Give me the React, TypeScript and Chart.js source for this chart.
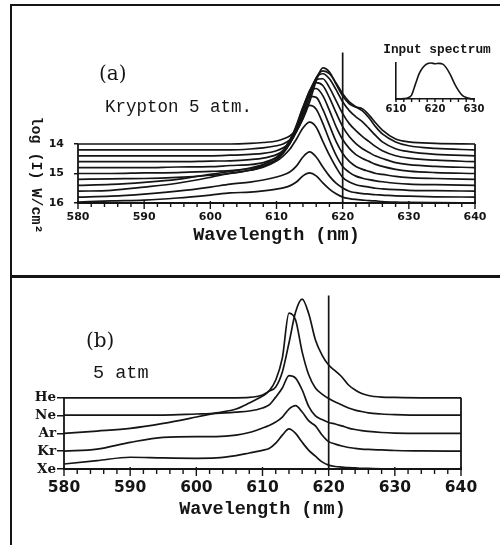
import React, { useEffect, useRef } from "react";
import { Chart, registerables } from "chart.js";

Chart.register(...registerables);

const INK = "#151515";

// Wavelength grid (nm) on which every spectrum below is sampled
const wavelengths = [580, 585, 590, 595, 600, 603, 606, 608, 610, 611, 612, 613, 614, 615, 616, 617, 618, 619, 620, 621, 622, 623, 624, 625, 626, 628, 630, 634, 640];

// (a) Krypton 5 atm: baseline log(I) of each trace, bottom trace first
const kryptonLevels = [16.0, 15.8, 15.6, 15.4, 15.2, 15.0, 14.8, 14.6, 14.4, 14.2, 14.0];
const levelTicks = [14, 15, 16];

// Rise of each trace above its own baseline (decades)
const kr1 = [0.03, 0.07, 0.10, 0.17, 0.27, 0.34, 0.37, 0.41, 0.47, 0.51, 0.58, 0.71, 0.92, 1.02, 0.92, 0.68, 0.47, 0.31, 0.20, 0.15, 0.12, 0.10, 0.08, 0.07, 0.05, 0.03, 0.02, 0.01, 0];
const kr2 = [0, 0.03, 0.10, 0.20, 0.34, 0.44, 0.51, 0.58, 0.68, 0.75, 0.85, 1.05, 1.36, 1.53, 1.36, 1.02, 0.71, 0.47, 0.31, 0.20, 0.15, 0.12, 0.10, 0.08, 0.07, 0.04, 0.03, 0.01, 0];
const kr3 = [0, 0.03, 0.14, 0.27, 0.47, 0.61, 0.71, 0.81, 1.02, 1.19, 1.42, 1.76, 2.14, 2.34, 2.17, 1.69, 1.22, 0.81, 0.47, 0.31, 0.22, 0.17, 0.14, 0.10, 0.08, 0.05, 0.03, 0.02, 0];
const kr4 = [0, 0.03, 0.10, 0.20, 0.37, 0.47, 0.58, 0.71, 0.95, 1.19, 1.53, 1.97, 2.44, 2.71, 2.58, 2.10, 1.53, 1.02, 0.64, 0.44, 0.31, 0.24, 0.19, 0.15, 0.12, 0.07, 0.04, 0.02, 0];
const kr5 = [0, 0.02, 0.03, 0.07, 0.14, 0.20, 0.31, 0.44, 0.68, 0.92, 1.29, 1.83, 2.44, 2.81, 2.78, 2.37, 1.83, 1.29, 0.88, 0.61, 0.44, 0.34, 0.27, 0.20, 0.17, 0.10, 0.06, 0.03, 0];
const kr6 = [0, 0, 0.02, 0.03, 0.07, 0.10, 0.17, 0.27, 0.47, 0.68, 1.02, 1.56, 2.24, 2.75, 2.88, 2.64, 2.14, 1.59, 1.15, 0.85, 0.64, 0.51, 0.41, 0.31, 0.24, 0.14, 0.08, 0.03, 0];
const kr7 = [0, 0, 0, 0.02, 0.03, 0.07, 0.10, 0.17, 0.34, 0.51, 0.81, 1.32, 2.00, 2.61, 2.88, 2.78, 2.37, 1.86, 1.39, 1.05, 0.81, 0.64, 0.51, 0.39, 0.31, 0.17, 0.10, 0.04, 0];
const kr8 = [0, 0, 0, 0, 0.02, 0.03, 0.07, 0.12, 0.24, 0.37, 0.61, 1.05, 1.69, 2.37, 2.78, 2.81, 2.51, 2.07, 1.63, 1.29, 1.05, 0.85, 0.68, 0.51, 0.37, 0.20, 0.12, 0.05, 0];
const kr9 = [0, 0, 0, 0, 0, 0.02, 0.05, 0.08, 0.17, 0.27, 0.44, 0.81, 1.39, 2.10, 2.64, 2.78, 2.61, 2.24, 1.83, 1.53, 1.32, 1.15, 0.92, 0.68, 0.47, 0.24, 0.14, 0.05, 0];
const kr10 = [0, 0, 0, 0, 0, 0, 0.03, 0.07, 0.14, 0.20, 0.34, 0.61, 1.08, 1.76, 2.44, 2.68, 2.58, 2.27, 1.90, 1.63, 1.46, 1.32, 1.08, 0.78, 0.54, 0.27, 0.14, 0.05, 0];
const kr11 = [0, 0, 0, 0, 0, 0, 0.02, 0.05, 0.10, 0.17, 0.27, 0.47, 0.85, 1.42, 2.14, 2.58, 2.44, 2.03, 1.63, 1.36, 1.25, 1.19, 0.98, 0.71, 0.47, 0.17, 0.07, 0.02, 0];
const kryptonRises = [kr1, kr2, kr3, kr4, kr5, kr6, kr7, kr8, kr9, kr10, kr11];

// (b) 5 atm of each buffer gas, offset levels: Xe = 0 ... He = 4
const gasLabels = ["Xe", "Kr", "Ar", "Ne", "He"];
const heTrace = [4.0, 4.0, 4.0, 4.0, 4.0, 4.0, 4.0, 4.02, 4.16, 4.38, 4.61, 5.45, 7.08, 8.82, 9.55, 8.71, 7.25, 6.40, 5.84, 5.51, 5.17, 4.72, 4.44, 4.24, 4.13, 4.04, 4.02, 4.0, 4.0];
const neTrace = [3.03, 3.03, 3.03, 3.03, 3.09, 3.13, 3.20, 3.26, 3.43, 3.60, 4.04, 4.55, 5.25, 5.11, 4.44, 3.50, 2.98, 2.78, 2.61, 2.53, 2.42, 2.30, 2.22, 2.16, 2.11, 2.05, 2.02, 2.0, 2.0];
const arTrace = [2.0, 2.13, 2.28, 2.56, 2.92, 3.15, 3.37, 3.71, 4.10, 4.38, 5.0, 6.24, 8.76, 8.37, 6.57, 5.28, 4.55, 4.21, 3.96, 3.76, 3.60, 3.43, 3.31, 3.23, 3.15, 3.09, 3.06, 3.03, 3.03];
const krTrace = [1.0, 1.12, 1.50, 1.78, 1.82, 1.82, 1.90, 2.05, 2.30, 2.44, 2.64, 2.92, 3.37, 3.56, 3.20, 2.70, 2.42, 1.91, 1.54, 1.40, 1.29, 1.21, 1.16, 1.12, 1.10, 1.07, 1.04, 1.02, 1.0];
const xeTrace = [0.28, 0.47, 0.66, 0.62, 0.60, 0.62, 0.75, 0.90, 1.05, 1.15, 1.45, 1.90, 2.25, 2.00, 1.50, 1.05, 0.72, 0.40, 0.22, 0.14, 0.11, 0.08, 0.06, 0.04, 0.03, 0.01, 0, 0, 0];
const gasTraces = [xeTrace, krTrace, arTrace, neTrace, heTrace];

// Inset: normalised input spectrum
const inputWavelengths = [610, 611, 612, 613, 614, 615, 616, 617, 618, 619, 620, 621, 622, 623, 624, 625, 626, 627, 628, 629, 630];
const inputSpectrum = [0, 0, 0.01, 0.03, 0.11, 0.42, 0.72, 0.89, 0.98, 1.0, 0.98, 0.99, 0.97, 0.85, 0.66, 0.43, 0.24, 0.1, 0.04, 0.01, 0];

const markerWavelength = 620;

type Txt = {
  text: string;
  x: number;
  y: number;
  font: string;
  align?: CanvasTextAlign;
  baseline?: CanvasTextBaseline;
  rotate?: number;
};

type DecoOpts = {
  minorStep: number;
  majorStep: number;
  minorLen: number;
  majorUp: number;
  majorDown: number;
  marker?: number;
  box?: [number, number];
  texts: Txt[];
};

// Draws tick marks, the marker line, the side walls of the stack and free text
function decorations(o: DecoOpts) {
  return {
    id: "decorations",
    afterDraw(chart: any) {
      const { ctx, chartArea } = chart;
      const xs = chart.scales.x;
      const ys = chart.scales.y;
      const y0 = chartArea.bottom;
      ctx.save();
      ctx.strokeStyle = INK;
      ctx.fillStyle = INK;
      ctx.lineWidth = 1.4;
      for (let v = xs.min; v <= xs.max + 1e-6; v += o.minorStep) {
        const px = xs.getPixelForValue(v);
        const r = (v - xs.min) % o.majorStep;
        const major = Math.abs(r) < 1e-6 || Math.abs(r - o.majorStep) < 1e-6;
        ctx.beginPath();
        ctx.moveTo(px, y0 - (major ? o.majorUp : 0));
        ctx.lineTo(px, y0 + (major ? o.majorDown : o.minorLen));
        ctx.stroke();
      }
      if (o.marker !== undefined) {
        const px = xs.getPixelForValue(o.marker);
        ctx.lineWidth = 1.7;
        ctx.beginPath();
        ctx.moveTo(px, chartArea.top);
        ctx.lineTo(px, y0);
        ctx.stroke();
      }
      if (o.box) {
        ctx.lineWidth = 1.8;
        const ya = ys.getPixelForValue(o.box[0]);
        const yb = ys.getPixelForValue(o.box[1]);
        [xs.min, xs.max].forEach((v: number) => {
          const px = xs.getPixelForValue(v);
          ctx.beginPath();
          ctx.moveTo(px, ya);
          ctx.lineTo(px, yb);
          ctx.stroke();
        });
      }
      o.texts.forEach((t) => {
        ctx.save();
        ctx.font = t.font;
        ctx.textAlign = t.align || "left";
        ctx.textBaseline = t.baseline || "alphabetic";
        ctx.translate(t.x, t.y);
        if (t.rotate) ctx.rotate(t.rotate);
        ctx.fillText(t.text, 0, 0);
        ctx.restore();
      });
      ctx.restore();
    },
  };
}

const tickFont = (size: number) => ({ family: "DejaVu Sans", size, weight: "bold" as const });

function lineSet(points: { x: number; y: number }[], width = 1.7) {
  return {
    data: points,
    borderColor: INK,
    borderWidth: width,
    pointRadius: 0,
    fill: false,
    cubicInterpolationMode: "monotone" as const,
    clip: 4,
  };
}

function useChart(ref: React.RefObject<HTMLCanvasElement | null>, build: () => any) {
  useEffect(() => {
    if (!ref.current) return;
    const chart = new Chart(ref.current, build());
    return () => chart.destroy();
  }, []);
}

function PanelA() {
  const ref = useRef<HTMLCanvasElement>(null);
  useChart(ref, () => ({
    type: "line",
    data: {
      datasets: kryptonRises.map((rise, i) =>
        lineSet(wavelengths.map((w, j) => ({ x: w, y: kryptonLevels[i] - rise[j] })))
      ),
    },
    options: {
      animation: false,
      responsive: false,
      devicePixelRatio: 1,
      events: [],
      layout: { padding: { left: 0, right: 25, top: 52.5, bottom: 0 } },
      plugins: { legend: { display: false }, tooltip: { enabled: false } },
      scales: {
        x: {
          type: "linear",
          min: 580,
          max: 640,
          afterFit: (s: any) => { s.height = 72; },
          grid: { display: false, drawTicks: false },
          border: { display: true, color: INK, width: 2 },
          ticks: { stepSize: 10, padding: 8, color: INK, font: tickFont(11), maxRotation: 0, autoSkip: false },
          title: {
            display: true,
            text: "Wavelength (nm)",
            color: INK,
            font: { family: "Liberation Mono", size: 18.5, weight: "bold" },
            padding: { top: 0, bottom: 29 },
          },
        },
        y: {
          type: "linear",
          reverse: true,
          min: 10.9,
          max: 16,
          afterFit: (s: any) => { s.width = 78; },
          afterBuildTicks: (s: any) => { s.ticks = levelTicks.map((v) => ({ value: v })); },
          grid: { drawOnChartArea: false, drawTicks: true, tickLength: 4, color: INK, lineWidth: 1.5 },
          border: { display: false },
          ticks: { padding: 10, color: INK, font: tickFont(11), callback: (v: any) => String(v) },
        },
      },
    },
    plugins: [
      decorations({
        minorStep: 2,
        majorStep: 10,
        minorLen: 4,
        majorUp: 2,
        majorDown: 6,
        marker: markerWavelength,
        box: [levelTicks[0], levelTicks[levelTicks.length - 1]],
        texts: [
          { text: "(a)", x: 99, y: 75, font: "20px 'DejaVu Serif'", baseline: "middle" },
          { text: "Krypton 5 atm.", x: 105, y: 112, font: "17.5px 'Liberation Mono'" },
          {
            text: "log (I) W/cm²",
            x: 35.5,
            y: 175,
            font: "bold 15px 'Liberation Mono'",
            align: "center",
            baseline: "middle",
            rotate: Math.PI / 2,
          },
        ],
      }),
    ],
  }));
  return (
    <canvas
      ref={ref}
      width={500}
      height={275}
      style={{ position: "absolute", left: 0, top: 0, width: 500, height: 275 }}
    />
  );
}

function PanelB() {
  const ref = useRef<HTMLCanvasElement>(null);
  useChart(ref, () => ({
    type: "line",
    data: {
      datasets: gasTraces.map((tr) => lineSet(wavelengths.map((w, j) => ({ x: w, y: tr[j] })))),
    },
    options: {
      animation: false,
      responsive: false,
      devicePixelRatio: 1,
      events: [],
      layout: { padding: { left: 0, right: 39, top: 17.5, bottom: 0 } },
      plugins: { legend: { display: false }, tooltip: { enabled: false } },
      scales: {
        x: {
          type: "linear",
          min: 580,
          max: 640,
          afterFit: (s: any) => { s.height = 76; },
          grid: { display: false, drawTicks: false },
          border: { display: true, color: INK, width: 2 },
          ticks: { stepSize: 10, padding: 10, color: INK, font: tickFont(15.5), maxRotation: 0, autoSkip: false },
          title: {
            display: true,
            text: "Wavelength (nm)",
            color: INK,
            font: { family: "Liberation Mono", size: 18.5, weight: "bold" },
            padding: { top: 0, bottom: 25 },
          },
        },
        y: {
          type: "linear",
          min: 0,
          max: 9.75,
          afterFit: (s: any) => { s.width = 64; },
          afterBuildTicks: (s: any) => { s.ticks = gasLabels.map((_, i) => ({ value: i })); },
          grid: { drawOnChartArea: false, drawTicks: true, tickLength: 7, color: INK, lineWidth: 1.5 },
          border: { display: false },
          ticks: {
            padding: 1,
            color: INK,
            font: { family: "DejaVu Serif", size: 13.5, weight: "bold" },
            callback: (v: any) => gasLabels[v],
          },
        },
      },
    },
    plugins: [
      decorations({
        minorStep: 2,
        majorStep: 10,
        minorLen: 5,
        majorUp: 2,
        majorDown: 7,
        marker: markerWavelength,
        box: [0, gasLabels.length - 1],
        texts: [
          { text: "(b)", x: 86, y: 64, font: "20px 'DejaVu Serif'", baseline: "middle" },
          { text: "5 atm", x: 93, y: 100, font: "18.5px 'Liberation Mono'" },
        ],
      }),
    ],
  }));
  return (
    <canvas
      ref={ref}
      width={500}
      height={267}
      style={{ position: "absolute", left: 0, top: 278, width: 500, height: 267 }}
    />
  );
}

function InputInset() {
  const ref = useRef<HTMLCanvasElement>(null);
  useChart(ref, () => ({
    type: "line",
    data: {
      datasets: [lineSet(inputWavelengths.map((w, j) => ({ x: w, y: inputSpectrum[j] })), 1.6)],
    },
    options: {
      animation: false,
      responsive: false,
      devicePixelRatio: 1,
      events: [],
      layout: { padding: { left: 0, right: 26, top: 33, bottom: 0 } },
      plugins: { legend: { display: false }, tooltip: { enabled: false } },
      scales: {
        x: {
          type: "linear",
          min: 610,
          max: 630,
          afterFit: (s: any) => { s.height = 31; },
          grid: { display: false, drawTicks: false },
          border: { display: true, color: INK, width: 1.6 },
          ticks: { stepSize: 10, padding: 4, color: INK, font: tickFont(10), maxRotation: 0, autoSkip: false },
        },
        y: {
          type: "linear",
          min: 0,
          max: 1,
          afterFit: (s: any) => { s.width = 26; },
          grid: { display: false, drawTicks: false },
          border: { display: true, color: INK, width: 1.6 },
          ticks: { display: false },
        },
      },
    },
    plugins: [
      decorations({
        minorStep: 2,
        majorStep: 10,
        minorLen: 3,
        majorUp: 0,
        majorDown: 3,
        texts: [
          { text: "Input spectrum", x: 67, y: 23, font: "bold 12.8px 'Liberation Mono'", align: "center" },
        ],
      }),
    ],
  }));
  return (
    <canvas
      ref={ref}
      width={130}
      height={100}
      style={{ position: "absolute", left: 370, top: 30, width: 130, height: 100 }}
    />
  );
}

export default function App() {
  const rule = (s: React.CSSProperties): React.CSSProperties => ({ position: "absolute", background: INK, ...s });
  return (
    <div style={{ position: "absolute", left: 0, top: 0, width: 500, height: 545, background: "#fff", overflow: "hidden" }}>
      <PanelA />
      <PanelB />
      <InputInset />
      <div style={rule({ left: 10, top: 4, width: 490, height: 2 })} />
      <div style={rule({ left: 10, top: 4, width: 2, height: 541 })} />
      <div style={rule({ left: 10, top: 275, width: 490, height: 3 })} />
    </div>
  );
}
